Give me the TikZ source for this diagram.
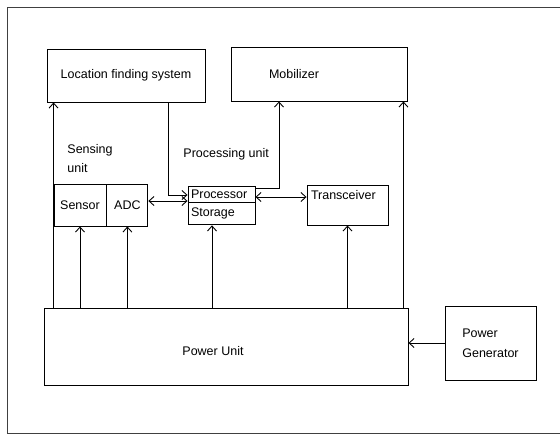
\documentclass[tikz,border=0pt]{standalone}
\usepackage{fontspec}
\setmainfont{Liberation Sans}
\usetikzlibrary{positioning,arrows.meta}

\begin{document}
\begin{tikzpicture}[x=1pt, y=-1pt, line width=0.9pt,
    >={Straight Barb[length=5pt,width=9pt]},
    every node/.style={font=\fontsize{12.5}{19}\selectfont},
    unitbox/.style={draw, inner sep=0pt},
    caption/.style={inner sep=0pt, align=left}]
    \useasboundingbox (0,0) rectangle (560,434);
    \draw[line width=1pt, black!75] (560,7) -| (7,433) -- (560,433);

    \node[unitbox, minimum width=158pt, minimum height=53pt] (Loc) at (126,75.5) {Location finding system};
    \node[unitbox, minimum width=176pt, minimum height=54pt, text width=100pt, inner xsep=38pt, align=left] (Mob) at (319,74) {Mobilizer};
    \node[unitbox, minimum width=52pt, minimum height=42pt] (Sensor) at (80,205) {Sensor};
    \node[unitbox, minimum width=41pt, minimum height=42pt, right=0pt of Sensor] (ADC) {ADC};
    \node[unitbox, minimum width=67pt, minimum height=16pt, text width=61pt, inner xsep=3pt, align=left] (Proc) at (221.5,194) {Processor};
    \node[unitbox, minimum width=67pt, minimum height=22pt, text width=61pt, inner xsep=3pt, align=left, below=0pt of Proc] (Stor) {Storage};
    \node[unitbox, minimum width=81pt, text width=73pt, inner xsep=4pt, inner ysep=5.5pt, text height=9pt, text depth=20pt, align=left] (Trx) at (347.5,205) {Transceiver};
    \node[unitbox, minimum width=364pt, minimum height=77pt, label={[xshift=-13pt, yshift=-5pt]center:Power Unit}] (Pwr) at (226,346.5) {};
    \node[unitbox, minimum width=91pt, minimum height=74pt, align=left, font=\fontsize{12.5}{20}\selectfont] (Gen) at (490.5,343) {Power\\Generator};

    \node[caption, anchor=west] (SensLbl) at (67,159) {Sensing\\unit};
    \node[caption, anchor=west] (ProcLbl) at (183,154) {Processing unit};

    % power lines
    \draw[->] (Pwr.north -| Sensor.west) -- (Loc.south -| Sensor.west);
    \draw[->] (Pwr.north -| Sensor.south) -- (Sensor.south);
    \draw[->] (Pwr.north -| ADC.south) -- (ADC.south);
    \coordinate (StorIn) at ([xshift=-9.5pt]Stor.south);
    \draw[->] (Pwr.north -| StorIn) -- (StorIn);
    \draw[->] (Pwr.north -| Trx.south) -- (Trx.south);
    \coordinate (MobIn) at ([xshift=-4pt]Mob.south east);
    \draw[->] (Pwr.north -| MobIn) -- (MobIn);
    \draw[->] (Gen.west) -- (Gen.west -| Pwr.east);

    % data lines
    \coordinate (LocOut) at ([xshift=42pt]Loc.south);
    \draw[->] (LocOut) |- ([yshift=-1pt]Proc.west);
    \coordinate (AdcOut) at ([yshift=4pt]ADC.east);
    \draw[<->] (AdcOut) -- (AdcOut -| Proc.west);
    \coordinate (ProcOut) at ([yshift=-3pt]Proc.east);
    \draw[<->] (ProcOut) -- (ProcOut -| Trx.west);
    \draw[->] ([yshift=6pt]Proc.east) -| ([xshift=-40pt]Mob.south);
\end{tikzpicture}
\end{document}
